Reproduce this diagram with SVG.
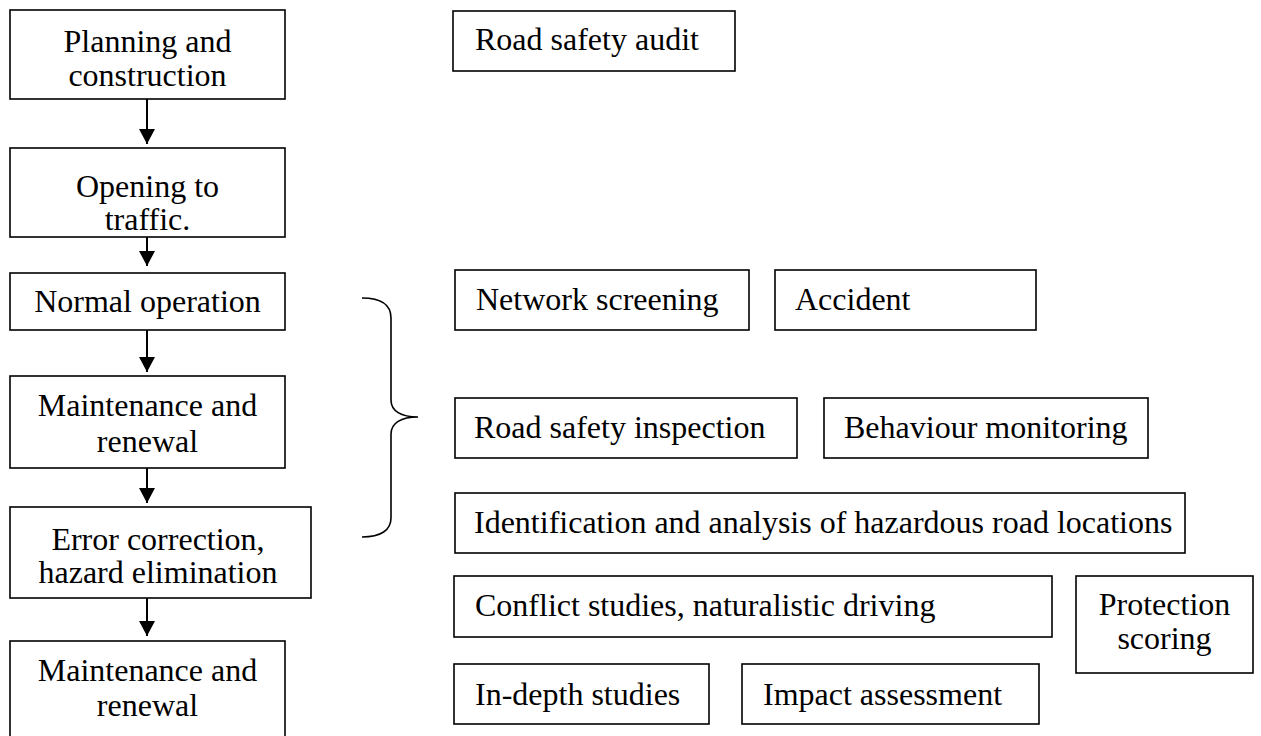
<svg xmlns="http://www.w3.org/2000/svg" width="1261" height="736" viewBox="0 0 1261 736">
<style>
.box{fill:#fff;stroke:#000;stroke-width:1.6}
.c{text-anchor:middle}
.conn line{stroke:#000;stroke-width:2}
.brace{fill:none;stroke:#000;stroke-width:1.6}
text{font-family:"Liberation Serif","Times New Roman",Times,serif;font-size:32px;fill:#000}
</style>
<defs>
<marker id="ah" viewBox="0 0 15 16" refX="15" refY="8" markerWidth="15" markerHeight="16" markerUnits="userSpaceOnUse" orient="auto">
<path d="M0,0 L15,8 L0,16 z" fill="#000"/>
</marker>
</defs>
<rect width="1261" height="736" fill="#fff"/>

<g id="n-planning"><rect class="box" x="10" y="10" width="275" height="89"/><text class="c" x="147.5" y="52">Planning and</text><text class="c" x="147.5" y="86">construction</text></g>
<g id="n-opening"><rect class="box" x="10" y="148" width="275" height="89"/><text class="c" x="147.5" y="197">Opening to</text><text class="c" x="147.5" y="230">traffic.</text></g>
<g id="n-normal"><rect class="box" x="10" y="273" width="275" height="57"/><text class="c" x="147.5" y="312">Normal operation</text></g>
<g id="n-maint1"><rect class="box" x="10" y="376" width="275" height="92"/><text class="c" x="147.5" y="416">Maintenance and</text><text class="c" x="147.5" y="452">renewal</text></g>
<g id="n-error"><rect class="box" x="10" y="507" width="301" height="91"/><text class="c" x="158" y="550">Error correction,</text><text class="c" x="158" y="583">hazard elimination</text></g>
<g id="n-maint2"><rect class="box" x="10" y="641" width="275" height="100"/><text class="c" x="147.5" y="681">Maintenance and</text><text class="c" x="147.5" y="716">renewal</text></g>

<g id="n-audit"><rect class="box" x="453" y="11" width="282" height="60"/><text x="475" y="50">Road safety audit</text></g>
<g id="n-network"><rect class="box" x="455" y="270" width="294" height="60"/><text x="476" y="310">Network screening</text></g>
<g id="n-accident"><rect class="box" x="775" y="270" width="261" height="60"/><text x="795" y="310">Accident</text></g>
<g id="n-inspection"><rect class="box" x="455" y="398" width="342" height="60"/><text x="474" y="438">Road safety inspection</text></g>
<g id="n-behaviour"><rect class="box" x="824" y="398" width="324" height="60"/><text x="844" y="438">Behaviour monitoring</text></g>
<g id="n-identification"><rect class="box" x="455" y="493" width="730" height="60"/><text x="474" y="533">Identification and analysis of hazardous road locations</text></g>
<g id="n-conflict"><rect class="box" x="454" y="576" width="598" height="61"/><text x="475" y="616">Conflict studies, naturalistic driving</text></g>
<g id="n-protection"><rect class="box" x="1076" y="576" width="177" height="97"/><text class="c" x="1164.5" y="615">Protection</text><text class="c" x="1164.5" y="649">scoring</text></g>
<g id="n-indepth"><rect class="box" x="454" y="664" width="255" height="60"/><text x="475" y="705">In-depth studies</text></g>
<g id="n-impact"><rect class="box" x="742" y="664" width="297" height="60"/><text x="763" y="705">Impact assessment</text></g>

<g id="connectors" class="conn">
<line x1="147" y1="99" x2="147" y2="144" marker-end="url(#ah)"/>
<line x1="147" y1="237" x2="147" y2="266" marker-end="url(#ah)"/>
<line x1="147" y1="330" x2="147" y2="372" marker-end="url(#ah)"/>
<line x1="147" y1="468" x2="147" y2="503" marker-end="url(#ah)"/>
<line x1="147" y1="598" x2="147" y2="636" marker-end="url(#ah)"/>
<path class="brace" d="M362,298 C381,298 391,305 391,318 L391,400 C391,411 401,417 418,417 C401,417 391,423 391,434 L391,518 C391,530 381,537 362,537"/>
</g>
</svg>
